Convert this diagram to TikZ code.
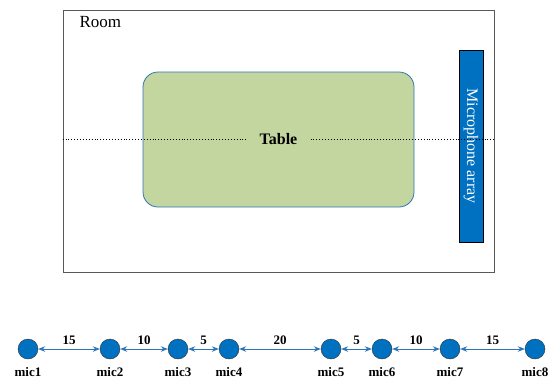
\documentclass[tikz,border=0pt]{standalone}
\usepackage{fontspec}
\setmainfont{Liberation Serif}
\usepackage{xcolor}
\usepackage{tikz}
\usetikzlibrary{arrows.meta}
\definecolor{micblue}{HTML}{0070C0}
\definecolor{lineblue}{HTML}{2E75B6}
\definecolor{tablegreen}{HTML}{C4D6A0}
\definecolor{roomgray}{HTML}{595959}

\begin{document}
\begin{tikzpicture}
      [
        x=1pt,y=-1pt,
        mic/.style={circle,draw=black!80,fill=micblue,minimum size=20pt,inner sep=0pt},
        lbl/.style={font=\fontsize{13}{13}\selectfont\bfseries},
        link/.style={draw=lineblue,line width=1pt,{Stealth[length=7pt,width=5.5pt]}-{Stealth[length=7pt,width=5.5pt]}}
      ]

      \useasboundingbox (0,0) rectangle (560,378);

      % room and table
      \node[draw=roomgray,line width=0.8pt,minimum width=431pt,minimum height=262pt,inner sep=0pt] (Room) at (278.5,141) {};
      \node[font=\fontsize{17}{17}\selectfont,anchor=west] (RoomLbl) at (76,22) {Room};
      \node[draw=lineblue,fill=tablegreen,rounded corners=15pt,line width=0.8pt,minimum width=271pt,minimum height=135pt] (Table) at (278.5,139.5) {};
      \node[font=\fontsize{16}{16}\selectfont\bfseries,inner xsep=13pt] (TableLbl) at (278.5,139.5) {Table};
      \node[draw=black,fill=micblue,line width=0.8pt,minimum width=24pt,minimum height=192pt,inner sep=0pt] (Array) at (471,146) {};
      \node[rotate=-90,text=white,font=\fontsize{16}{16}\selectfont] (ArrayLbl) at (Array.center) {Microphone array};

      \draw[dotted,line width=0.9pt] (Room.west |- TableLbl) -- (TableLbl.west);
      \draw[dotted,line width=0.9pt] (TableLbl.east) -- (Room.east |- TableLbl);

      % microphones
      \node[mic] (M1) at (28,349) {};
      \node[mic] (M2) at (110,349) {};
      \node[mic] (M3) at (178,349) {};
      \node[mic] (M4) at (229,349) {};
      \node[mic] (M5) at (331,349) {};
      \node[mic] (M6) at (382,349) {};
      \node[mic] (M7) at (450,349) {};
      \node[mic] (M8) at (535,349) {};

      \node[lbl] (L1) at (28,372) {mic1};
      \node[lbl] (L2) at (110,372) {mic2};
      \node[lbl] (L3) at (178,372) {mic3};
      \node[lbl] (L4) at (229,372) {mic4};
      \node[lbl] (L5) at (331,372) {mic5};
      \node[lbl] (L6) at (382,372) {mic6};
      \node[lbl] (L7) at (450,372) {mic7};
      \node[lbl] (L8) at (535,372) {mic8};

      \draw[link] (M1) -- node[lbl,above=1pt] {15} (M2);
      \draw[link] (M2) -- node[lbl,above=1pt] {10} (M3);
      \draw[link] (M3) -- node[lbl,above=1pt] {5} (M4);
      \draw[link] (M4) -- node[lbl,above=1pt] {20} (M5);
      \draw[link] (M5) -- node[lbl,above=1pt] {5} (M6);
      \draw[link] (M6) -- node[lbl,above=1pt] {10} (M7);
      \draw[link] (M7) -- node[lbl,above=1pt] {15} (M8);
    \end{tikzpicture}
\end{document}
